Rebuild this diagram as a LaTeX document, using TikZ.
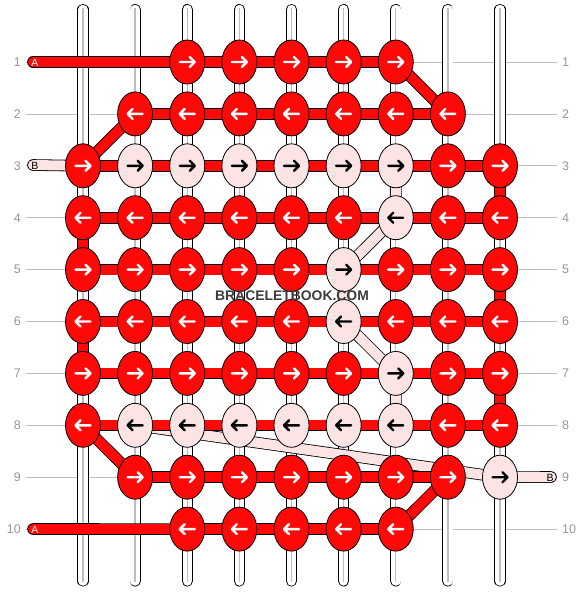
\documentclass[tikz,border=0pt]{standalone}
\usepackage{fontspec}
\setmainfont{Liberation Sans}
\usetikzlibrary{shapes.geometric}
\definecolor{kred}{RGB}{255,8,8}
\definecolor{kpink}{RGB}{252,228,228}
\definecolor{lblgrey}{RGB}{150,150,150}
\definecolor{rowline}{RGB}{190,190,190}
\definecolor{wmark}{RGB}{60,60,60}
\pgfdeclarelayer{strands}
\pgfdeclarelayer{threads}
\pgfsetlayers{strands,threads,main}
\tikzset{
 knotbase/.style={ellipse, draw=black, line width=0.8pt, minimum width=35pt, minimum height=44pt, inner sep=0pt},
 rk/.style={knotbase, fill=kred},
 pk/.style={knotbase, fill=kpink},
 redthread/.style={draw=black, line width=0.8pt, double=kred, double distance=10pt},
 pinkthread/.style={draw=black, line width=0.8pt, double=kpink, double distance=10pt},
 strandline/.style={draw=black, line width=0.8pt, double=white, double distance=9.5pt, line cap=round},
 strandcore/.style={draw=black!25, line width=1.3pt},
 rowguide/.style={draw=rowline, line width=0.8pt},
 arrw/.style={line width=2.4pt, line cap=round, line join=round},
 rowlbl/.style={text=lblgrey, font=\fontsize{12.5}{14}\selectfont, inner sep=0pt},
 endlbl/.style={font=\fontsize{10.5}{12}\selectfont, inner sep=0pt, anchor=base},
}
\newcommand\RK[3]{%
 \node[rk] (k#1-#2) at ({83+52.125*#1},{62+51.9*(#2-1)}) {};
 \draw[arrw, white, shift={(k#1-#2.center)}, xscale=#3] (-7.5,0) -- (7.5,0) (2.5,-5) -- (7.5,0) -- (2.5,5);}
\newcommand\PK[3]{%
 \node[pk] (k#1-#2) at ({83+52.125*#1},{62+51.9*(#2-1)}) {};
 \draw[arrw, black, shift={(k#1-#2.center)}, xscale=#3] (-7.5,0) -- (7.5,0) (2.5,-5) -- (7.5,0) -- (2.5,5);}
\begin{document}
\begin{tikzpicture}[x=1pt,y=-1pt]
\useasboundingbox (0,0) rectangle (584,592);
% knots
\foreach \c in {2,...,6} {\RK{\c}{1}{1}}
\foreach \c in {1,...,7} {\RK{\c}{2}{-1}}
\RK{0}{3}{1}
\foreach \c in {1,...,6} {\PK{\c}{3}{1}}
\foreach \c in {7,8} {\RK{\c}{3}{1}}
\foreach \c in {0,...,5,7,8} {\RK{\c}{4}{-1}}
\PK{6}{4}{-1}
\foreach \c in {0,...,4,6,7,8} {\RK{\c}{5}{1}}
\PK{5}{5}{1}
\foreach \c in {0,...,4,6,7,8} {\RK{\c}{6}{-1}}
\PK{5}{6}{-1}
\foreach \c in {0,...,5,7,8} {\RK{\c}{7}{1}}
\PK{6}{7}{1}
\RK{0}{8}{-1}
\foreach \c in {1,...,6} {\PK{\c}{8}{-1}}
\foreach \c in {7,8} {\RK{\c}{8}{-1}}
\foreach \c in {1,...,7} {\RK{\c}{9}{1}}
\PK{8}{9}{1}
\foreach \c in {2,...,6} {\RK{\c}{10}{-1}}
% free ends
\coordinate (aIn) at (33,62);
\coordinate (aOut) at (33,529);
\coordinate (bIn) at (33,165);
\coordinate (bOut) at (551,477);
% labels
\foreach \r in {1,...,10} {
 \node[rowlbl, anchor=east] (ll\r) at (21,{62+51.9*(\r-1)}) {\r};
 \node[rowlbl, anchor=west] (rl\r) at (562,{62+51.9*(\r-1)}) {\r};
}
\node[endlbl, text=white] (la1) at (35,66) {A};
\node[endlbl, text=white] (la2) at (35,533) {A};
\node[endlbl, text=black] (lb1) at (35,169) {B};
\node[endlbl, text=black] (lb2) at (550,481.5) {B};
\node[font=\bfseries\fontsize{13.9}{16}\selectfont, text=wmark, anchor=base, inner sep=0pt] (wm) at (292,300.5) {BRACELETBOOK.COM};
% strands
\begin{pgfonlayer}{strands}
\foreach \r in {1,...,10} {\draw[rowguide] (26,{62+51.9*(\r-1)}) -- (557,{62+51.9*(\r-1)});}
\foreach \c in {0,...,8} {
 \draw[strandline] ({83+52.125*\c},9.5) -- ({83+52.125*\c},581);
 \draw[strandcore] ({83+52.125*\c},8) -- ({83+52.125*\c},582);
}
\end{pgfonlayer}
% threads
\begin{pgfonlayer}{threads}
\draw[pinkthread] (k1-8.center) -- (k8-9.center);
\draw[pinkthread, line cap=round] (bIn) -- (k0-3.center);
\draw[pinkthread, line cap=round] (k8-9.center) -- (bOut);
\draw[pinkthread] (k6-3.center) -- (k6-4.center) -- (k5-5.center) -- (k5-6.center) -- (k6-7.center) -- (k6-8.center);
% red
\draw[redthread, line cap=round] (aIn) -- (k2-1.center);
\draw[redthread, line cap=round] (aOut) -- (k2-10.center);
\foreach \c [evaluate=\c as \n using int(\c+1)] in {2,...,5} {\draw[redthread] (k\c-1.center) -- (k\n-1.center);}
\foreach \c [evaluate=\c as \n using int(\c+1)] in {1,...,6} {\draw[redthread] (k\c-2.center) -- (k\n-2.center);}
\foreach \r in {3,...,8} {
 \foreach \c [evaluate=\c as \n using int(\c+1)] in {0,...,7} {\draw[redthread] (k\c-\r.center) -- (k\n-\r.center);}
}
\foreach \c [evaluate=\c as \n using int(\c+1)] in {1,...,6} {\draw[redthread] (k\c-9.center) -- (k\n-9.center);}
\foreach \c [evaluate=\c as \n using int(\c+1)] in {2,...,5} {\draw[redthread] (k\c-10.center) -- (k\n-10.center);}
\draw[redthread] (k6-1.center) -- (k7-2.center);
\draw[redthread] (k1-2.center) -- (k0-3.center);
\draw[redthread] (k0-8.center) -- (k1-9.center);
\draw[redthread] (k7-9.center) -- (k6-10.center);
\draw[redthread] (k8-3.center) -- (k8-4.center);
\draw[redthread] (k0-4.center) -- (k0-5.center);
\draw[redthread] (k8-5.center) -- (k8-6.center);
\draw[redthread] (k0-6.center) -- (k0-7.center);
\draw[redthread] (k8-7.center) -- (k8-8.center);
\end{pgfonlayer}
\end{tikzpicture}
\end{document}
